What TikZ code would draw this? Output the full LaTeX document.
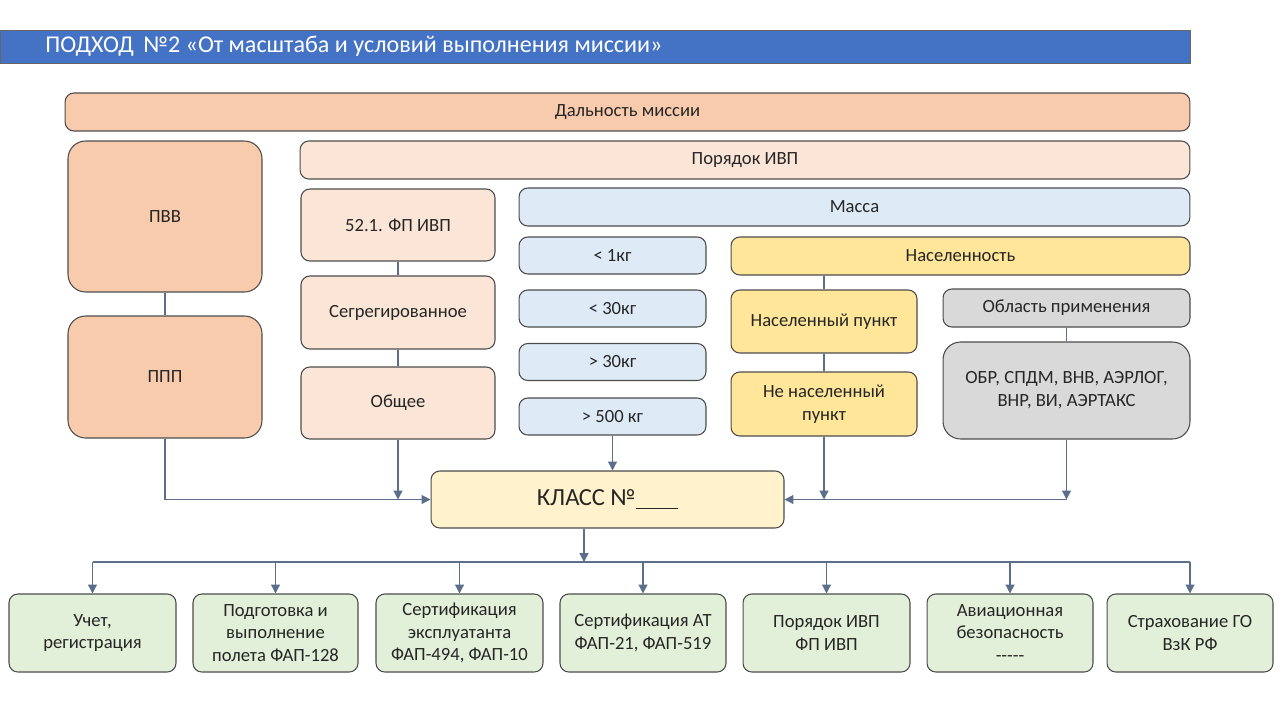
\documentclass[tikz,border=0pt]{standalone}
\usepackage{fontspec}
\setmainfont{Carlito}
\usetikzlibrary{arrows.meta}

\definecolor{titleblue}{HTML}{4472C4}
\definecolor{peach}{HTML}{F8CBAD}
\definecolor{peachlight}{HTML}{FBE5D6}
\definecolor{massblue}{HTML}{DEEBF7}
\definecolor{popyellow}{HTML}{FFE699}
\definecolor{areagrey}{HTML}{D9D9D9}
\definecolor{classyellow}{HTML}{FFF2CC}
\definecolor{lawgreen}{HTML}{E2F0D9}
\definecolor{linkgrey}{HTML}{5B6E8A}

\tikzset{
  box/.style={draw=black!70, line width=0.6pt, rounded corners=5pt,
    align=center, inner sep=2pt, text=black!85,
    font=\fontsize{10.6}{13}\selectfont},
  bigbox/.style={box, rounded corners=10pt},
  link/.style={draw=linkgrey, line width=0.7pt},
  arr/.style={link, -{Triangle[length=5pt,width=5pt]}}
}

\begin{document}
\begin{tikzpicture}[x=0.02cm, y=-0.02cm]
    \useasboundingbox (0,0) rectangle (1280,720);

    % header
    \draw[draw=black!60, fill=titleblue] (0,30) rectangle (1190,63);
    \node[anchor=west, text=white, inner sep=0pt, font=\fontsize{13.7}{16}\selectfont]
          (title) at (45,46.5) {ПОДХОД \,№2 «От масштаба и условий выполнения миссии»};

    % upper part
    \node[box, fill=peach, minimum width=22.5cm, minimum height=0.76cm] (range) at (627.5,112) {Дальность миссии};
    \node[bigbox, fill=peach, minimum width=3.88cm, minimum height=3.02cm] (pvv) at (165,216.5) {ПВВ};
    \node[bigbox, fill=peach, minimum width=3.88cm, minimum height=2.44cm] (ppp) at (165,377) {ППП};

    \node[box, fill=peachlight, minimum width=17.8cm, minimum height=0.76cm] (order) at (745,160) {Порядок ИВП};
    \node[box, fill=peachlight, minimum width=3.88cm, minimum height=1.44cm] (fp) at (398,225) {52.1. ФП ИВП};
    \node[box, fill=peachlight, minimum width=3.88cm, minimum height=1.46cm] (segr) at (398,312.5) {Сегрегированное};
    \node[box, fill=peachlight, minimum width=3.88cm, minimum height=1.44cm] (common) at (398,403) {Общее};

    \node[box, fill=massblue, minimum width=13.42cm, minimum height=0.76cm] (mass) at (854.5,207) {Масса};
    \node[box, fill=massblue, minimum width=3.74cm, minimum height=0.74cm] (m1) at (612.5,255.5) {< 1кг};
    \node[box, fill=massblue, minimum width=3.74cm, minimum height=0.74cm] (m2) at (612.5,308.5) {< 30кг};
    \node[box, fill=massblue, minimum width=3.74cm, minimum height=0.74cm] (m3) at (612.5,362) {> 30кг};
    \node[box, fill=massblue, minimum width=3.74cm, minimum height=0.74cm] (m4) at (612.5,416.5) {> 500 кг};

    \node[box, fill=popyellow, minimum width=9.18cm, minimum height=0.76cm] (pop) at (960.5,256) {Населенность};
    \node[box, fill=popyellow, minimum width=3.72cm, minimum height=1.26cm] (town) at (824,321.5) {Населенный пункт};
    \node[box, fill=popyellow, minimum width=3.72cm, minimum height=1.28cm] (notown) at (824,404) {Не населенный\\ пункт};

    \node[box, fill=areagrey, minimum width=4.94cm, minimum height=0.76cm] (area) at (1066.5,308) {Область применения};
    \node[bigbox, fill=areagrey, minimum width=4.94cm, minimum height=1.94cm] (kinds) at (1066.5,390.5) {ОБР, СПДМ, ВНВ, АЭРЛОГ,\\ ВНР, ВИ, АЭРТАКС};

    \node[box, fill=classyellow, minimum width=7.06cm, minimum height=1.14cm,
          font=\fontsize{14}{16}\selectfont] (klass) at (607.5,499.5) {КЛАСС №\underline{\hspace{0.85cm}}};

    % lower row
    \node[box, fill=lawgreen, minimum width=3.34cm, minimum height=1.56cm] (b1) at (92.5,633) {Учет,\\ регистрация};
    \node[box, fill=lawgreen, minimum width=3.30cm, minimum height=1.56cm] (b2) at (275.5,633) {Подготовка и\\ выполнение\\ полета ФАП-128};
    \node[box, fill=lawgreen, minimum width=3.34cm, minimum height=1.56cm] (b3) at (459.5,633) {Сертификация\\ эксплуатанта\\ ФАП-494, ФАП-10};
    \node[box, fill=lawgreen, minimum width=3.32cm, minimum height=1.56cm] (b4) at (643,633) {Сертификация АТ\\ ФАП-21, ФАП-519};
    \node[box, fill=lawgreen, minimum width=3.34cm, minimum height=1.56cm] (b5) at (826.5,633) {Порядок ИВП\\ ФП ИВП};
    \node[box, fill=lawgreen, minimum width=3.32cm, minimum height=1.56cm] (b6) at (1010,633) {Авиационная\\ безопасность\\ -{}-{}-{}-{}-};
    \node[box, fill=lawgreen, minimum width=3.32cm, minimum height=1.56cm] (b7) at (1190,633) {Страхование ГО\\ ВзК РФ};

    % links
    \draw[link] (pvv) -- (ppp);
    \draw[link] (fp) -- (segr);
    \draw[link] (segr) -- (common);
    \draw[link] (pop.south -| town) -- (town);
    \draw[link] (town) -- (notown);
    \draw[link] (area) -- (kinds);

    \draw[arr] (ppp.south) |- (klass.west);
    \draw[arr] (common.south) -- (common.south |- klass.west);
    \draw[arr] (m4.south) -- (m4.south |- klass.north);
    \draw[arr] (notown.south) -- (notown.south |- klass.east);
    \draw[arr] (kinds.south) -- (kinds.south |- klass.east);
    \draw[arr] (kinds.south |- klass.east) -- (klass.east);

    \coordinate (busL) at (92.5,562);
    \coordinate (busR) at (1190,562);
    \draw[arr] (klass.south -| 584,0) -- (584,562);
    \draw[link] (busL) -- (busR);
    \foreach \i in {1,...,7}
      \draw[arr] (b\i.north |- busL) -- (b\i.north);
\end{tikzpicture}
\end{document}
